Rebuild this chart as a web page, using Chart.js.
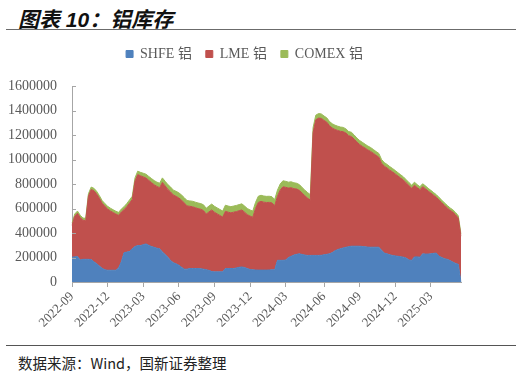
<!DOCTYPE html>
<html lang="zh-CN">
<head>
<meta charset="utf-8">
<title>铝库存</title>
<script src="https://cdn.jsdelivr.net/npm/chart.js@4.4.1/dist/chart.umd.min.js"></script>
<style>
    html, body { margin: 0; padding: 0; background: #fff; }
    body { width: 527px; height: 374px; position: relative; overflow: hidden; }
    .titulo { position: absolute; left: 18px; top: 3px; font: italic bold 21px "Liberation Sans", "Noto Sans CJK SC", sans-serif; color: #111; }
    .linea-titulo { position: absolute; left: 6px; top: 29px; width: 510px; border-top: 1.5px solid #6b6b6b; }
    .grafico { position: absolute; left: 0; top: 33px; width: 527px; height: 309px; }
    .linea-fuente { position: absolute; left: 6px; top: 345px; width: 510px; border-top: 1px solid #555; }
    .fuente { position: absolute; left: 18px; top: 352px; font: 14.5px "Noto Sans CJK SC", sans-serif; color: #222; }
</style>
</head>
<body>
<div class="titulo">图表 10：铝库存</div>
<div class="linea-titulo"></div>
<div class="grafico"><canvas id="graficoAluminio" width="527" height="309"></canvas></div>
<div class="linea-fuente"></div>
<div class="fuente">数据来源：Wind，国新证券整理</div>

<script>
// Datos semanales (toneladas)
const primeraSemana = "2022-09-02";
const numSemanas = 143;

const trimestres = ["2022-09", "2022-12", "2023-03", "2023-06", "2023-09", "2023-12",
    "2024-03", "2024-06", "2024-09", "2024-12", "2025-03"];

const shfe = [
    203000, 205000, 208000, 180000, 185000, 185000, 185000, 183000, 165000, 150000,
    130000, 112000, 100000, 96000, 96000, 96000, 96000, 115000, 165000, 240000,
    244000, 250000, 271000, 290000, 297000, 297000, 305000, 311000, 300000, 290000,
    283000, 276000, 271000, 245000, 225000, 203000, 175000, 158000, 148000, 137000,
    120000, 105000, 105000, 110000, 110000, 110000, 110000, 108000, 105000, 100000,
    95000, 85000, 83000, 83000, 83000, 83000, 110000, 110000, 110000, 110000,
    115000, 120000, 123000, 118000, 110000, 102000, 100000, 98000, 97000, 97000,
    97000, 97000, 98000, 100000, 100000, 177000, 177000, 177000, 180000, 200000,
    210000, 220000, 226000, 230000, 225000, 220000, 217000, 217000, 217000, 217000,
    217000, 218000, 222000, 226000, 230000, 240000, 255000, 265000, 272000, 278000,
    284000, 288000, 292000, 292000, 292000, 292000, 290000, 287000, 285000, 284000,
    284000, 284000, 284000, 260000, 236000, 230000, 222000, 217000, 213000, 210000,
    206000, 203000, 195000, 180000, 177000, 205000, 205000, 203000, 230000, 228000,
    228000, 230000, 234000, 236000, 210000, 200000, 190000, 185000, 175000, 163000,
    152000, 145000, 0
];

const lme = [
    259000, 332000, 353000, 347000, 319000, 316000, 515000, 572000, 580000, 569000,
    554000, 531000, 518000, 500000, 484000, 471000, 459000, 429000, 406000, 350000,
    371000, 394000, 403000, 533000, 580000, 570000, 553000, 538000, 530000, 522000,
    511000, 504000, 499000, 568000, 559000, 553000, 560000, 552000, 551000, 549000,
    548000, 540000, 516000, 508000, 504000, 497000, 489000, 486000, 478000, 455000,
    477000, 503000, 487000, 473000, 460000, 447000, 467000, 460000, 455000, 460000,
    460000, 462000, 465000, 452000, 440000, 436000, 429000, 502000, 553000, 561000,
    555000, 552000, 552000, 546000, 523000, 523000, 573000, 600000, 593000, 567000,
    560000, 542000, 533000, 518000, 501000, 484000, 468000, 451000, 1003000, 1107000,
    1121000, 1118000, 1097000, 1079000, 1045000, 1017000, 990000, 972000, 958000, 949000,
    932000, 906000, 896000, 874000, 850000, 830000, 817000, 806000, 793000, 782000,
    767000, 750000, 735000, 710000, 709000, 701000, 691000, 682000, 669000, 655000,
    642000, 629000, 614000, 607000, 588000, 585000, 566000, 551000, 548000, 534000,
    514000, 496000, 474000, 455000, 459000, 447000, 435000, 420000, 410000, 408000,
    397000, 377000, 374000
];

const comex = [
    18000, 18000, 18000, 18000, 18000, 19000, 20000, 20000, 20000, 21000,
    21000, 22000, 22000, 22000, 23000, 23000, 23000, 24000, 24000, 25000,
    25000, 26000, 26000, 27000, 28000, 28000, 30000, 31000, 32000, 33000,
    34000, 35000, 36000, 37000, 38000, 39000, 40000, 40000, 41000, 42000,
    42000, 43000, 44000, 44000, 45000, 45000, 46000, 46000, 47000, 47000,
    48000, 48000, 48000, 49000, 49000, 49000, 50000, 50000, 50000, 50000,
    50000, 50000, 50000, 50000, 50000, 50000, 50000, 50000, 50000, 50000,
    50000, 50000, 50000, 50000, 50000, 50000, 50000, 49000, 49000, 48000,
    48000, 48000, 47000, 47000, 46000, 46000, 45000, 45000, 40000, 38000,
    37000, 36000, 36000, 35000, 35000, 35000, 35000, 35000, 35000, 35000,
    34000, 34000, 34000, 34000, 33000, 33000, 33000, 32000, 32000, 32000,
    31000, 31000, 31000, 30000, 30000, 29000, 29000, 28000, 28000, 27000,
    27000, 26000, 26000, 25000, 25000, 25000, 24000, 24000, 24000, 23000,
    23000, 22000, 22000, 22000, 21000, 21000, 20000, 20000, 20000, 19000,
    19000, 18000, 18000
];

// Etiquetas de las semanas (AAAA-MM-DD)
const semanas = [];
const fechaInicio = new Date(primeraSemana + "T00:00:00Z");
for (let i = 0; i < numSemanas; i++) {
    const f = new Date(fechaInicio.getTime() + i * 7 * 86400000);
    semanas.push(f.toISOString().slice(0, 10));
}

// La primera semana de cada trimestre lleva marca y etiqueta
function esTrimestre(i) {
    const s = semanas[i];
    if (!s) return false;
    return trimestres.includes(s.slice(0, 7)) && parseInt(s.slice(8, 10), 10) <= 7;
}

const colorEje = "#a6a6a6";
const colorTexto = "#595959";

// Marcas cortas hacia dentro en el eje Y + leyenda algo desplazada a la derecha
const ajustesEje = {
    id: "ajustesEje",
    afterLayout(chart) {
        chart.legend.left += 14;
        chart.legend.right += 14;
    },
    afterDraw(chart) {
        const { ctx, chartArea } = chart;
        const y = chart.scales.y;
        ctx.save();
        ctx.strokeStyle = colorEje;
        ctx.lineWidth = 1;
        y.ticks.forEach(t => {
            const py = Math.round(y.getPixelForValue(t.value)) + 0.5;
            ctx.beginPath();
            ctx.moveTo(chartArea.left, py);
            ctx.lineTo(chartArea.left + 4, py);
            ctx.stroke();
        });
        ctx.restore();
    }
};

const ctx = document.getElementById("graficoAluminio").getContext("2d");
new Chart(ctx, {
    type: "line",
    data: {
        labels: semanas,
        datasets: [
            {
                label: "SHFE 铝",
                data: shfe,
                backgroundColor: "#4f81bd",
                borderColor: "#4f81bd",
                borderWidth: 1,
                fill: "origin",
            },
            {
                label: "LME 铝",
                data: lme,
                backgroundColor: "#c0504d",
                borderColor: "#c0504d",
                borderWidth: 1,
                fill: "-1",
            },
            {
                label: "COMEX 铝",
                data: comex,
                backgroundColor: "#9bbb59",
                borderColor: "#9bbb59",
                borderWidth: 1,
                fill: "-1",
            },
        ],
    },
    options: {
        responsive: false,
        animation: false,
        events: [],
        elements: { point: { radius: 0 }, line: { tension: 0 } },
        layout: { padding: { left: 0, right: 66, top: 0, bottom: 0 } },
        plugins: {
            legend: {
                position: "top",
                labels: {
                    boxWidth: 7,
                    boxHeight: 7,
                    padding: 14,
                    color: colorTexto,
                    font: { family: "Liberation Serif", size: 14 },
                },
            },
            // titulo vacio: solo deja espacio entre la leyenda y el grafico
            title: {
                display: true,
                text: "",
                weight: 500,
                font: { size: 1, lineHeight: 1 },
                padding: { top: 14, bottom: 0 },
            },
            tooltip: { enabled: false },
        },
        scales: {
            x: {
                border: { color: colorEje },
                grid: {
                    drawOnChartArea: false,
                    tickLength: 5,
                    color: c => esTrimestre(c.index) ? colorEje : "rgba(0,0,0,0)",
                    tickColor: c => esTrimestre(c.index) ? colorEje : "rgba(0,0,0,0)",
                },
                ticks: {
                    autoSkip: false,
                    minRotation: 45,
                    maxRotation: 45,
                    padding: 2,
                    color: colorTexto,
                    font: { family: "Liberation Serif", size: 13 },
                    callback: (v, i) => esTrimestre(i) ? semanas[i].slice(0, 7) : "",
                },
                afterFit: s => { s.height = 60; },
            },
            y: {
                stacked: true,
                min: 0,
                max: 1600000,
                border: { color: colorEje },
                grid: { drawOnChartArea: false, drawTicks: false },
                ticks: {
                    stepSize: 200000,
                    padding: 15,
                    color: colorTexto,
                    font: { family: "Liberation Serif", size: 14 },
                    callback: v => String(v),
                },
                afterFit: s => { s.width = 72; },
            },
        },
    },
    plugins: [ajustesEje],
});
</script>
</body>
</html>
